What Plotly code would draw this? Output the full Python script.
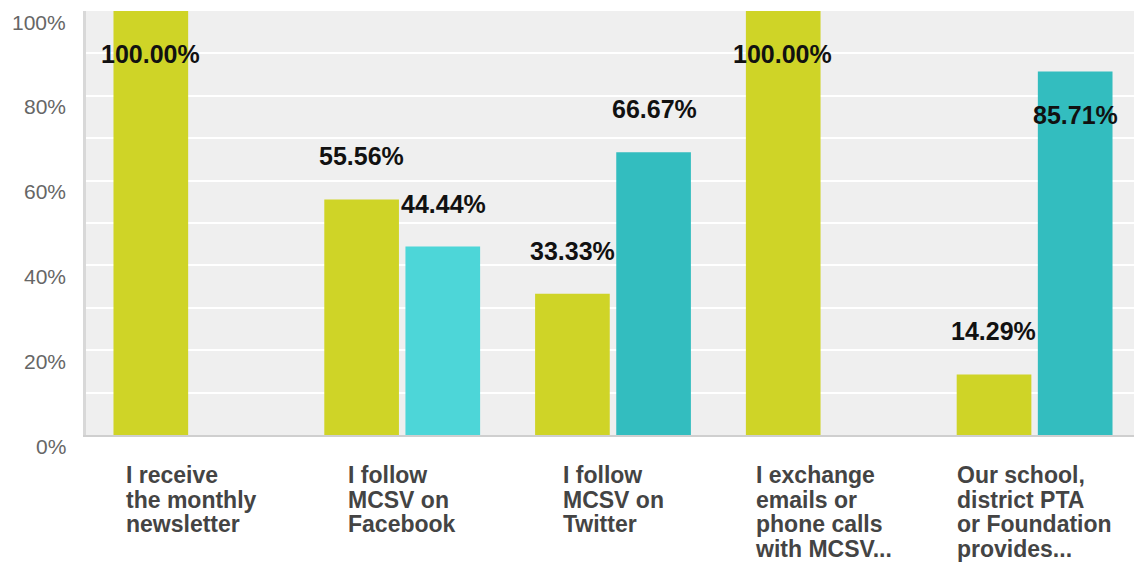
import plotly.graph_objects as go

categories = [
    ["I receive", "the monthly", "newsletter"],
    ["I follow", "MCSV on", "Facebook"],
    ["I follow", "MCSV on", "Twitter"],
    ["I exchange", "emails or", "phone calls", "with MCSV..."],
    ["Our school,", "district PTA", "or Foundation", "provides..."],
]
series_a = [100.00, 55.56, 33.33, 100.00, 14.29]
series_b = [None, 44.44, 66.67, None, 85.71]
y_ticks = [0, 20, 40, 60, 80, 100]

color_a = "#cfd427"
colors_b = ["#33bdbf", "#4dd6d8", "#33bdbf", "#33bdbf", "#33bdbf"]

keys = ["c%d" % i for i in range(len(categories))]
font = "Liberation Sans, Arial"

fig = go.Figure()
fig.add_trace(go.Bar(x=keys, y=series_a, marker_color=color_a, marker_line_width=0, name="A"))
fig.add_trace(go.Bar(x=keys, y=series_b, marker_color=colors_b, marker_line_width=0, name="B"))

annotations = []
# value labels: above the bar, or inside near the top when the bar is tall
for vals, dx in ((series_a, -41), (series_b, 41)):
    for k, v in zip(keys, vals):
        if v is None:
            continue
        annotations.append(dict(
            x=k, y=v, xref="x", yref="y", text="<b>%.2f%%</b>" % v, showarrow=False,
            xshift=dx, yshift=(-43 if v > 80 else 43), yanchor="middle",
            font=dict(family=font, size=25, color="#111"),
        ))

# category labels, left-aligned lines in a centred block
# (small base size keeps the line spacing tight, the spans make the glyphs bigger)
for k, lines in zip(keys, categories):
    text = "<br>".join("<span style='font-size:23px'><b>%s</b></span>" % ln for ln in lines)
    annotations.append(dict(
        x=k, y=0, xref="x", yref="paper", text=text, showarrow=False,
        yanchor="top", yshift=-25, align="left",
        font=dict(family=font, size=19, color="#444"),
    ))

# y tick labels sit a little below their gridlines
for t in y_ticks:
    annotations.append(dict(
        x=0, y=t, xref="paper", yref="y", text="%d%%" % t, showarrow=False,
        xanchor="right", xshift=-18, yshift=-11, yanchor="middle",
        font=dict(family=font, size=21, color="#666"),
    ))

# the page body adds an 8px margin, so the figure is sized to fit beside it
fig.update_layout(
    width=1134, height=554,
    margin=dict(l=78, r=2, t=3, b=127, autoexpand=False),
    paper_bgcolor="white",
    plot_bgcolor="#efefef",
    showlegend=False,
    barmode="group",
    bargap=0.23,
    bargroupgap=0.08,
    annotations=annotations,
    xaxis=dict(
        showticklabels=False, showgrid=False, zeroline=False, automargin=False,
        showline=True, linecolor="#cfcfcf", linewidth=2,
    ),
    yaxis=dict(
        range=[0, 100], dtick=20, showticklabels=False, automargin=False,
        showgrid=True, gridcolor="white", gridwidth=2,
        minor=dict(dtick=10, showgrid=True, gridcolor="white", gridwidth=2),
        zeroline=False, showline=True, linecolor="#d8d8d8", linewidth=3,
    ),
)

fig.write_html("out.html")
